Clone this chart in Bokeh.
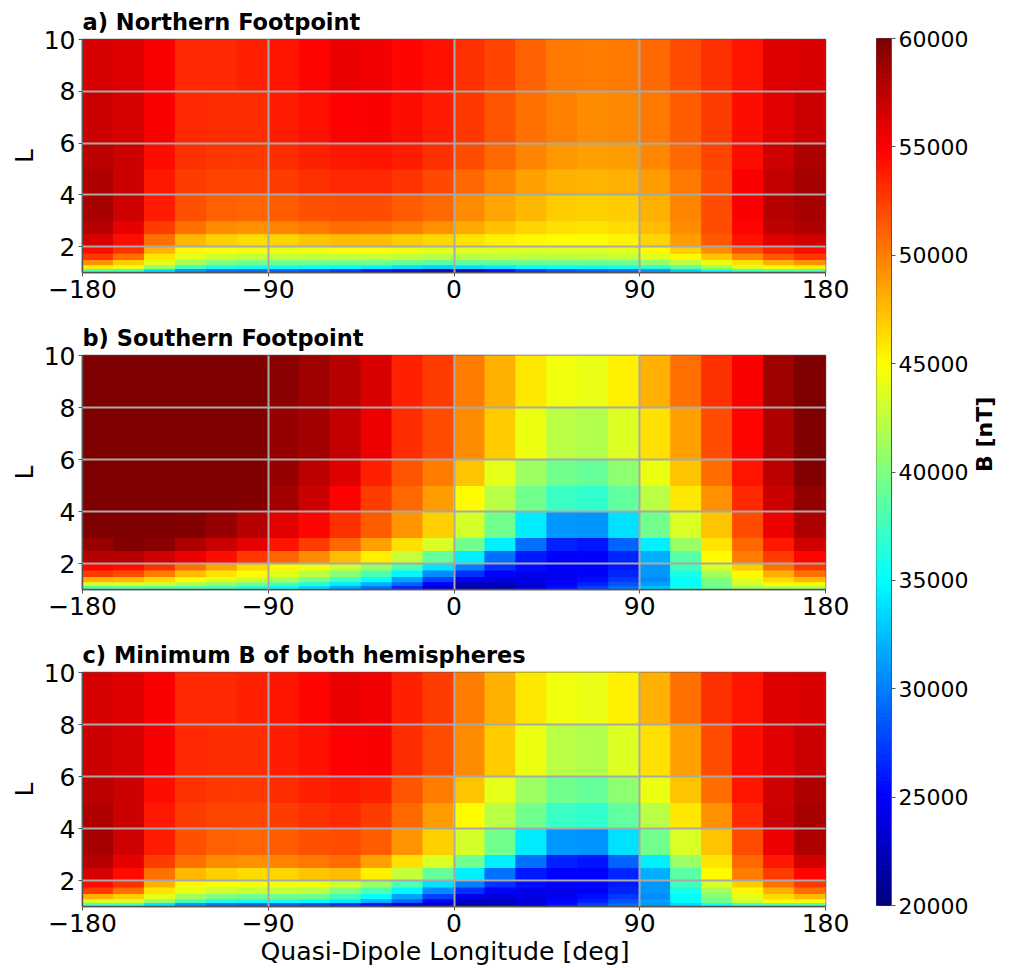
from bokeh.plotting import figure
from bokeh.layouts import row, column
from bokeh.models import ColumnDataSource, LinearColorMapper, FixedTicker, Title
from bokeh.transform import transform
from bokeh.embed import file_html
from bokeh.resources import INLINE
import numpy as np
import math

# cell edges: quasi-dipole longitude (deg) and L
lon_edges = [-180,-165,-150,-135,-120,-105,-90,-75,-60,-45,-30,-15,0,15,30,45,60,75,90,105,120,135,150,165,180]
L_edges = [1,1.15,1.3,1.5,1.75,2,2.5,3,4,5,6,8,10]

# B [nT], rows from lowest L to highest L, columns from -180 to 180
north_B = [
[38000,37500,34000,31000,29500,29000,28800,28000,27000,25500,24000,22500,23000,25000,27000,28000,28500,29500,31000,33500,35500,37500,38000,38000],
[45500,44500,41000,37800,36000,35500,35500,35200,35000,34700,34000,33500,34000,34500,35000,35300,35300,35800,37000,39000,41500,43800,45000,45500],
[49300,47000,44000,41500,40000,39500,39500,39500,39500,39500,39000,38500,38800,39000,39300,39300,39300,39500,40700,42300,44300,46200,48000,49300],
[52800,50500,46000,44000,43000,42800,42700,42700,42800,42700,42500,42200,42200,42400,42400,42400,42400,42800,43800,45300,47300,49500,51500,52800],
[54500,53000,48000,45200,44700,44400,44300,44500,44700,44700,44500,44000,43800,43800,43700,43700,43700,44000,45000,47000,49500,52000,53500,54500],
[56500,54500,50500,47800,46800,46400,46600,47200,47600,47600,47000,46500,46000,45600,45300,45000,45000,45400,46700,48800,51500,54300,56200,56800],
[57800,55800,52500,50500,49500,49300,49800,50300,50700,50500,50000,49300,48300,47400,46700,46200,46000,46300,47600,49500,52000,54800,57400,58000],
[58300,56800,53800,51800,51200,51000,51400,51800,52000,51900,51400,50800,49500,48500,47700,47000,46800,47000,48000,49800,52000,55000,57800,58400],
[58000,57000,54000,52500,52200,52200,52600,53000,53300,53400,52900,52100,50800,49700,48700,48100,47900,48000,48800,50200,52000,55000,57300,58300],
[57500,57000,54500,53000,52800,52800,53200,53700,54000,54200,53800,53000,51900,50800,49800,49000,48700,48800,49600,50800,52300,54500,56800,58000],
[57000,56500,55000,53400,53200,53200,53800,54300,54900,55000,54500,53800,52800,51700,50600,49900,49500,49600,50300,51300,52600,54400,56000,57000],
[56500,56200,55000,53400,53400,53600,54100,54700,55700,55400,54800,54300,53100,52200,51200,50300,50100,50300,50900,51900,53000,54200,56100,56400],
]
south_B = [
[38000,38500,38500,38000,37500,36500,35000,33500,31500,29500,26500,23000,21500,22000,23500,25500,27500,29500,32500,36000,39500,41500,41800,41800],
[43500,43500,43000,41800,40800,39800,38300,36500,34300,32000,29000,25000,22700,22700,23700,25000,26300,28300,31300,35000,39500,43000,45000,45200],
[48000,47800,46500,45000,44000,43000,41500,39800,37500,35000,31500,27500,24300,23700,24000,24500,25500,27300,30500,35000,40000,44000,46500,47800],
[52500,52000,50000,47500,46000,45000,43800,42300,40300,38000,34800,30500,27000,25000,24500,24500,25000,26500,31000,36000,41500,45200,48000,50500],
[54800,54500,53000,50500,48500,46500,45200,44500,43000,41000,38000,34000,30000,27000,25500,25000,25000,26000,31000,37500,43500,47000,50500,52800],
[57800,57800,56800,55500,54500,52800,51000,49500,47500,45500,42800,39000,34500,29500,26000,25000,25000,26500,32000,38500,45000,50000,52500,54800],
[59000,59800,59500,58000,57000,55800,54200,52500,50800,48700,46200,43500,39500,34500,29500,26300,25800,29000,34500,41000,46000,50800,54000,56700],
[60000,60000,60000,59800,59000,57800,56000,54700,53000,51300,49200,46800,43400,39400,34300,31000,30800,33800,39400,43500,47300,52000,55500,58000],
[60000,60000,60000,60000,60000,59800,58500,57000,54900,52600,50900,48800,45000,42300,39400,37200,36900,38800,42300,45800,49300,53300,56900,59200],
[60000,60000,60000,60000,60000,60000,59000,57500,56200,53700,51700,50000,47300,44000,41200,39400,39000,40600,44300,47300,50700,54200,57500,59800],
[60000,60000,60000,60000,60000,60000,59000,58500,57200,55500,53200,52000,49400,46900,44300,42300,42000,43700,46200,48700,51900,54700,58000,60000],
[60000,60000,60000,60000,60000,60000,59500,58700,57800,56400,53600,52500,50000,48100,45900,44400,44200,45500,48000,50600,53100,55000,58700,60000],
]
minimum_B = [
[38000,37500,34000,31000,29500,29000,28800,28000,27000,25500,24000,22500,21500,22000,23500,25500,27500,29500,31000,33500,35500,37500,38000,38000],
[43500,43500,41000,37800,36000,35500,35500,35200,34300,32000,29000,25000,22700,22700,23700,25000,26300,28300,31300,35000,39500,43000,45000,45200],
[48000,47000,44000,41500,40000,39500,39500,39500,37500,35000,31500,27500,24300,23700,24000,24500,25500,27300,30500,35000,40000,44000,46500,47800],
[52500,50500,46000,44000,43000,42800,42700,42300,40300,38000,34800,30500,27000,25000,24500,24500,25000,26500,31000,36000,41500,45200,48000,50500],
[54500,53000,48000,45200,44700,44400,44300,44500,43000,41000,38000,34000,30000,27000,25500,25000,25000,26000,31000,37500,43500,47000,50500,52800],
[56500,54500,50500,47800,46800,46400,46600,47200,47500,45500,42800,39000,34500,29500,26000,25000,25000,26500,32000,38500,45000,50000,52500,54800],
[57800,55800,52500,50500,49500,49300,49800,50300,50700,48700,46200,43500,39500,34500,29500,26300,25800,29000,34500,41000,46000,50800,54000,56700],
[58300,56800,53800,51800,51200,51000,51400,51800,52000,51300,49200,46800,43400,39400,34300,31000,30800,33800,39400,43500,47300,52000,55500,58000],
[58000,57000,54000,52500,52200,52200,52600,53000,53300,52600,50900,48800,45000,42300,39400,37200,36900,38800,42300,45800,49300,53300,56900,58300],
[57500,57000,54500,53000,52800,52800,53200,53700,54000,53700,51700,50000,47300,44000,41200,39400,39000,40600,44300,47300,50700,54200,56800,58000],
[57000,56500,55000,53400,53200,53200,53800,54300,54900,55000,53200,52000,49400,46900,44300,42300,42000,43700,46200,48700,51900,54400,56000,57000],
[56500,56200,55000,53400,53400,53600,54100,54700,55700,55400,53600,52500,50000,48100,45900,44400,44200,45500,48000,50600,53000,54200,56100,56400],
]

lon_ticks = [-180,-90,0,90,180]
L_ticks = [2,4,6,8,10]
B_ticks = [20000,25000,30000,35000,40000,45000,50000,55000,60000]
titles = ["a) Northern Footpoint","b) Southern Footpoint","c) Minimum B of both hemispheres"]
x_label = "Quasi-Dipole Longitude [deg]"
FONT = "DejaVu Sans"
GREY = "#a9a9a9"
EDGE = "#555555"
INK = "#000000"

def jet(t):
    r = np.clip(1.5 - abs(4*t - 3), 0, 1)
    g = np.clip(1.5 - abs(4*t - 2), 0, 1)
    b = np.clip(1.5 - abs(4*t - 1), 0, 1)
    return "#%02x%02x%02x" % (int(r*255), int(g*255), int(b*255))

palette = [jet(i/255) for i in range(256)]
mapper = LinearColorMapper(palette=palette, low=20000, high=60000)

def panel(grid, title, width, height, top, bottom):
    p = figure(width=width, height=height, x_range=(-180,180), y_range=(1,10),
               output_backend="svg", toolbar_location=None,
               min_border_left=82, min_border_right=30,
               min_border_top=top, min_border_bottom=bottom)
    left, right, low, high, val = [], [], [], [], []
    for i, r in enumerate(grid):
        for j, b in enumerate(r):
            left.append(lon_edges[j]); right.append(lon_edges[j+1])
            low.append(L_edges[i]); high.append(L_edges[i+1]); val.append(b)
    src = ColumnDataSource(dict(left=left, right=right, bottom=low, top=high, B=val))
    c = transform("B", mapper)
    p.quad(left="left", right="right", bottom="bottom", top="top", source=src,
           fill_color=c, line_color=c, line_width=1)
    p.xaxis.ticker = FixedTicker(ticks=lon_ticks)
    p.yaxis.ticker = FixedTicker(ticks=L_ticks)
    p.xaxis.major_label_overrides = {t: str(t).replace("-", "\u2212") for t in lon_ticks}
    p.yaxis.axis_label = "L"
    for ax in (p.xaxis[0], p.yaxis[0]):
        ax.major_label_text_font = FONT
        ax.major_label_text_font_size = "25px"
        ax.major_label_text_color = INK
        ax.axis_label_text_font = FONT
        ax.axis_label_text_font_size = "25px"
        ax.axis_label_text_font_style = "normal"
        ax.axis_label_text_color = INK
        ax.axis_line_color = EDGE
        ax.axis_line_width = 1.5
        ax.major_tick_line_color = EDGE
        ax.major_tick_out = 4
        ax.major_tick_in = 0
        ax.minor_tick_line_color = None
        ax.major_label_standoff = 3
        ax.axis_label_standoff = 2
    for g in p.grid:
        g.grid_line_color = GREY
        g.grid_line_width = 2
        g.level = "overlay"
    p.outline_line_color = EDGE
    p.outline_line_width = 1.5
    p.title = Title(text=title, align="left", text_font=FONT, text_font_size="22.5px",
                    text_font_style="bold", text_color=INK, offset=0, standoff=9)
    return p

p1 = panel(north_B, titles[0], 855, 318, 39, 46)
p2 = panel(south_B, titles[1], 855, 317, 37, 46)
p3 = panel(minimum_B, titles[2], 855, 333, 37, 62)
p3.add_layout(Title(text=x_label, align="left", offset=178, standoff=0, text_font=FONT,
                    text_font_size="25.2px", text_font_style="normal", text_color=INK),
              "below")

cb = figure(width=157, height=966, x_range=(0,1), y_range=(20000,60000),
            output_backend="svg", toolbar_location=None, x_axis_location=None,
            y_axis_location="right", min_border_left=21, min_border_right=115,
            min_border_top=38, min_border_bottom=61)
# colour bar: one strip per palette entry
levels = np.linspace(20000, 60000, 257)
cb.quad(left=0, right=1, bottom=levels[:-1], top=levels[1:], fill_color=palette,
        line_color=palette, line_width=1)
cb.grid.visible = False
cb.outline_line_color = EDGE
ax = cb.yaxis[0]
ax.ticker = FixedTicker(ticks=B_ticks)
ax.major_label_text_font = FONT
ax.major_label_text_font_size = "22px"
ax.major_label_text_color = INK
ax.axis_label = "B [nT]"
ax.axis_label_text_font = FONT
ax.axis_label_text_font_size = "22px"
ax.axis_label_text_font_style = "bold"
ax.axis_label_text_color = INK
ax.axis_label_text_align = "center"
ax.axis_label_orientation = math.pi/2
ax.axis_line_color = EDGE
ax.major_tick_line_color = EDGE
ax.major_tick_out = 4
ax.major_tick_in = 0
ax.minor_tick_line_color = None
ax.major_label_standoff = 3
ax.axis_label_standoff = 13

layout = row(column(p1, p2, p3, spacing=0), cb, spacing=0)
open("out.html", "w").write(file_html(layout, INLINE))
